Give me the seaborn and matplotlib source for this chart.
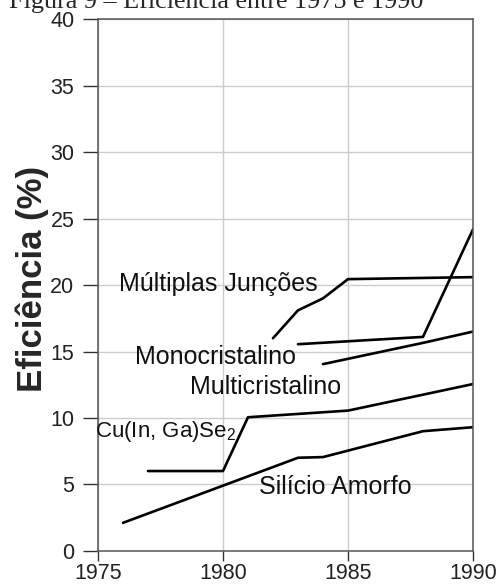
import numpy as np
import pandas as pd
import matplotlib
matplotlib.use("Agg")
import matplotlib.pyplot as plt
import seaborn as sns

# series (year, efficiency %)
amorfo_x = [1976, 1980, 1983, 1984, 1988, 1990]
amorfo_y = [2.1, 4.9, 7.0, 7.05, 9.0, 9.3]

cigs_x = [1977, 1980, 1981, 1985, 1990]
cigs_y = [6.0, 6.0, 10.05, 10.55, 12.55]

multi_x = [1984, 1988, 1990]
multi_y = [14.05, 15.65, 16.5]

mono_x = [1983, 1988, 1990]
mono_y = [15.55, 16.1, 24.2]

juncoes_x = [1982, 1983, 1984, 1985, 1990]
juncoes_y = [16.0, 18.1, 19.0, 20.45, 20.6]

labels = ["Múltiplas Junções", "Monocristalino", "Multicristalino",
          "Cu(In, Ga)Se$_2$", "Silício Amorfo"]
label_x = [1975.85, 1976.5, 1978.7, 1974.9, 1981.45]
label_y = [20.1, 14.6, 12.3, 8.95, 4.8]
label_size = [18, 18, 18, 16, 18]

sns.set_style("whitegrid")
plt.rcParams['font.family'] = ['Liberation Sans', 'DejaVu Sans']
plt.rcParams['mathtext.fontset'] = 'custom'
plt.rcParams['mathtext.rm'] = 'Liberation Sans'

fig = plt.figure(figsize=(5.02, 5.87), dpi=100)
ax = fig.add_axes([0.1952, 0.0618, 0.747, 0.905])

for xs, ys in [(amorfo_x, amorfo_y), (cigs_x, cigs_y), (multi_x, multi_y),
               (mono_x, mono_y), (juncoes_x, juncoes_y)]:
    sns.lineplot(x=xs, y=ys, ax=ax, color="black", linewidth=1.9)

for t, x, y, fs in zip(labels, label_x, label_y, label_size):
    ax.text(x, y, t, fontsize=fs, ha="left", va="center", color="#111111")

ax.set_xlim(1975, 1990)
ax.set_ylim(0, 40)
ax.set_xticks([1975, 1980, 1985, 1990])
ax.set_yticks(range(0, 41, 5))
ax.grid(True, color="#cccccc", linewidth=1)
for s in ax.spines.values():
    s.set_color("#555555")
    s.set_linewidth(1.1)
ax.tick_params(axis="y", direction="out", length=11, width=1, color="#333333",
               labelsize=15.5, left=True, pad=6, labelcolor="#222222")
ax.tick_params(axis="x", direction="out", length=7, width=1, color="#333333",
               labelsize=15.5, bottom=True, pad=2, labelcolor="#222222")
ax.set_xlabel("")
ax.set_ylabel("Eficiência (%)", fontsize=25, fontweight="bold")
ax.yaxis.set_label_coords(-0.130, 0.511)

fig.text(0.43, 1 - 8 / 587, "Figura 9 – Eficiência entre 1975 e 1990",
         ha="center", va="baseline", fontsize=18.8, family="Liberation Serif")

fig.savefig("out.png", dpi=100)
